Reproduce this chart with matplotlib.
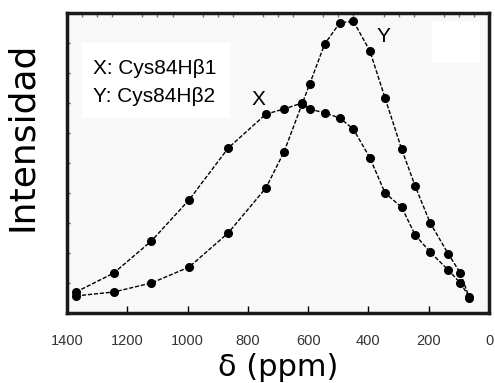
import matplotlib
matplotlib.use("Agg")
import matplotlib.pyplot as plt
from matplotlib.patches import Rectangle
from matplotlib.ticker import MultipleLocator

# chemical shift (ppm), same sampling for both curves
shift = [1370, 1245, 1120, 995, 865, 740, 680, 620, 595, 545,
         495, 450, 395, 345, 290, 245, 195, 135, 95, 65]
# relative intensities
int_x = [0.070, 0.133, 0.240, 0.377, 0.550, 0.663, 0.680, 0.700, 0.680, 0.667,
         0.650, 0.613, 0.517, 0.400, 0.353, 0.260, 0.203, 0.143, 0.100, 0.053]
int_y = [0.057, 0.070, 0.100, 0.153, 0.267, 0.417, 0.537, 0.697, 0.763, 0.897,
         0.967, 0.973, 0.873, 0.717, 0.547, 0.423, 0.300, 0.197, 0.133, 0.050]

xticks = [1400, 1200, 1000, 800, 600, 400, 200, 0]
legend_lines = ["X: Cys84H\u03b21", "Y: Cys84H\u03b22"]

fig = plt.figure(figsize=(4.95, 3.83), dpi=100)
fig.patch.set_facecolor("white")
ax = fig.add_axes([67 / 495, 70 / 383, 422 / 495, 300 / 383])
ax.set_facecolor("#f8f8f8")

dash = (0, (3, 1.3))
ax.plot(shift, int_x, color="black", lw=1, linestyle=dash,
        marker="o", markersize=5.5, markerfacecolor="black", markeredgecolor="black")
ax.plot(shift, int_y, color="black", lw=1, linestyle=dash,
        marker="o", markersize=5.5, markerfacecolor="black", markeredgecolor="black")

ax.set_xlim(1400, 0)
ax.set_ylim(0, 1)

for s in ax.spines.values():
    s.set_linewidth(2.5)
    s.set_color("#1a1a1a")

ax.set_xticks(xticks)
ax.set_xticklabels([str(t) for t in xticks], fontsize=10.5, color="#333333",
                   family="Liberation Sans")
ax.tick_params(axis="x", direction="in", length=5, width=1, pad=15, bottom=True)
ax.xaxis.set_minor_locator(MultipleLocator(50))
ax.tick_params(axis="x", which="minor", direction="in", length=3, width=1,
               bottom=False, top=True, color="#777777")
ax.set_yticks([])
ax.yaxis.set_minor_locator(MultipleLocator(0.1))
ax.tick_params(axis="y", which="minor", direction="in", length=2, width=1,
               color="#555555")

ax.set_xlabel("\u03b4 (ppm)", fontsize=22, labelpad=4)
ax.set_ylabel("Intensidad", fontsize=26)
ax.yaxis.set_label_coords(-0.066, 0.59)

# legend box
ax.add_patch(Rectangle((15 / 422, (313 - 118) / 300), 148 / 422, 75 / 300,
                       transform=ax.transAxes, facecolor="white", edgecolor="none", zorder=1))
ax.text(26 / 422, (313 - 68) / 300, legend_lines[0], transform=ax.transAxes,
        fontsize=15, family="Liberation Sans", va="center", ha="left", zorder=3)
ax.text(26 / 422, (313 - 97) / 300, legend_lines[1], transform=ax.transAxes,
        fontsize=15, family="Liberation Sans", va="center", ha="left", zorder=3)

# blank patch in the upper right corner
ax.add_patch(Rectangle((365 / 422, (313 - 63) / 300), 48 / 422, 41 / 300,
                       transform=ax.transAxes, facecolor="white", edgecolor="none", zorder=1))

# curve labels (positions given in ppm)
ax.text(765, 0.713, "X", fontsize=15, family="Liberation Sans", ha="center", va="center")
ax.text(350, 0.92, "Y", fontsize=15, family="Liberation Sans", ha="center", va="center")

fig.savefig("out.png", dpi=100)
